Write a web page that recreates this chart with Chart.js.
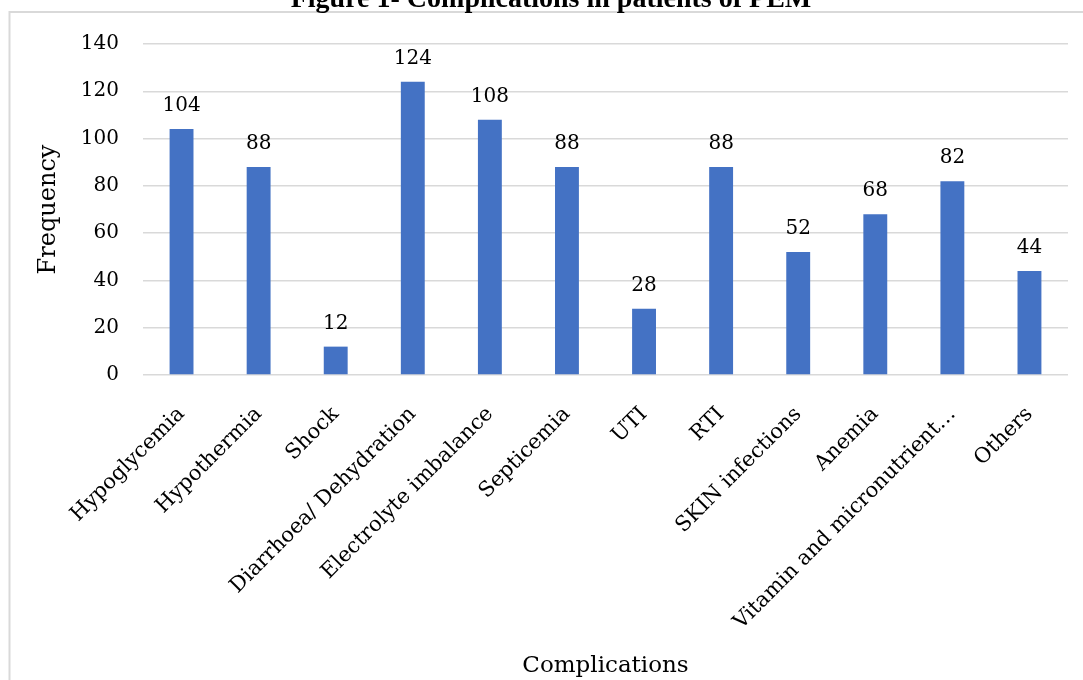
<!DOCTYPE html>
<html>
<head>
<meta charset="utf-8">
<title>Complications in patients of PEM</title>
<script src="https://cdn.jsdelivr.net/npm/chart.js@4/dist/chart.umd.min.js"></script>
<style>
  html, body { margin: 0; padding: 0; background: #ffffff; }
  #wrap { width: 1083px; height: 680px; }
</style>
</head>
<body>
<div id="wrap"><canvas id="chart" width="1083" height="680"></canvas></div>
<script>
// Complications recorded in PEM patients
const categories = [
  'Hypoglycemia', 'Hypothermia', 'Shock', 'Diarrhoea/ Dehydration',
  'Electrolyte imbalance', 'Septicemia', 'UTI', 'RTI', 'SKIN infections',
  'Anemia', 'Vitamin and micronutrient\u2026', 'Others'
];
const frequency = [104, 88, 12, 124, 108, 88, 28, 88, 52, 68, 82, 44];
const yTicks = [0, 20, 40, 60, 80, 100, 120, 140];

const chartTitle = 'Figure 1- Complications in patients of PEM';
const serif = '"DejaVu Serif", serif';

// white page, frame line, and figure caption
const framePlugin = {
  id: 'frame',
  beforeDraw(chart) {
    const ctx = chart.ctx;
    ctx.save();
    ctx.fillStyle = '#ffffff';
    ctx.fillRect(0, 0, chart.width, chart.height);
    ctx.strokeStyle = '#d9d9d9';
    ctx.lineWidth = 2;
    ctx.beginPath();
    ctx.moveTo(9.5, chart.height + 5);
    ctx.lineTo(9.5, 12);
    ctx.lineTo(chart.width + 5, 12);
    ctx.stroke();
    ctx.restore();
  },
  afterDraw(chart) {
    const ctx = chart.ctx;
    ctx.save();
    ctx.fillStyle = '#000000';
    ctx.font = 'bold 28px "Liberation Serif", serif';
    ctx.textAlign = 'center';
    ctx.textBaseline = 'alphabetic';
    ctx.fillText(chartTitle, 551, 7);
    ctx.restore();
  }
};

// value written above each bar
const valueLabels = {
  id: 'valueLabels',
  afterDatasetsDraw(chart) {
    const ctx = chart.ctx;
    const meta = chart.getDatasetMeta(0);
    const values = chart.data.datasets[0].data;
    ctx.save();
    ctx.fillStyle = '#000000';
    ctx.font = '20px ' + serif;
    ctx.textAlign = 'center';
    ctx.textBaseline = 'alphabetic';
    meta.data.forEach((bar, i) => {
      ctx.fillText(String(values[i]), bar.x, bar.y - 18);
    });
    ctx.restore();
  }
};

new Chart(document.getElementById('chart'), {
  type: 'bar',
  data: {
    labels: categories,
    datasets: [{
      label: 'Frequency',
      data: frequency,
      backgroundColor: '#4472c4',
      borderWidth: 0,
      barPercentage: 0.31,
      categoryPercentage: 1
    }]
  },
  options: {
    responsive: false,
    animation: false,
    devicePixelRatio: 1,
    layout: { padding: { top: 44, right: 15, left: 0, bottom: 0 } },
    plugins: {
      legend: { display: false },
      tooltip: { enabled: false },
      title: { display: false }
    },
    scales: {
      x: {
        grid: { display: false },
        border: { display: false },
        ticks: {
          autoSkip: false,
          maxRotation: 45,
          minRotation: 45,
          padding: 19,
          color: '#000000',
          font: { family: serif, size: 21 }
        },
        title: {
          display: true,
          text: 'Complications',
          color: '#000000',
          font: { family: serif, size: 23 },
          padding: { top: 7, bottom: 0 }
        },
        afterFit(scale) { scale.height = 305; }
      },
      y: {
        min: 0,
        max: 140,
        afterBuildTicks(scale) { scale.ticks = yTicks.map(v => ({ value: v })); },
        grid: { color: '#d9d9d9', lineWidth: 1.5, drawTicks: false },
        border: { display: false },
        ticks: {
          padding: 24,
          color: '#000000',
          font: { family: serif, size: 20 }
        },
        title: {
          display: true,
          text: 'Frequency',
          color: '#000000',
          font: { family: serif, size: 24 },
          padding: { top: 34, bottom: 0 }
        },
        afterFit(scale) { scale.width = 143; }
      }
    }
  },
  plugins: [framePlugin, valueLabels]
});
</script>
</body>
</html>
